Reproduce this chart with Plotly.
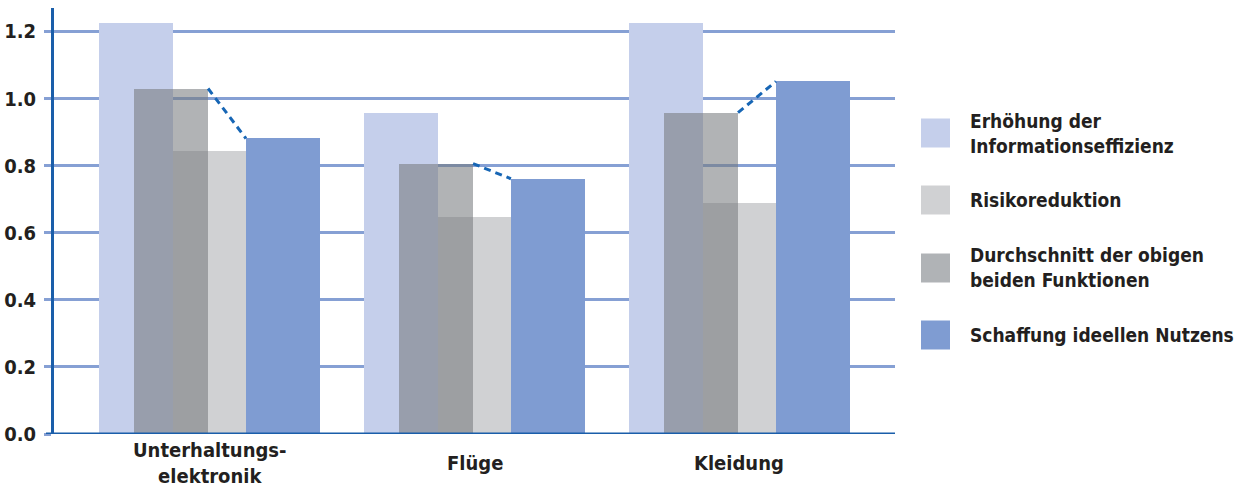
import plotly.graph_objects as go

# ---------------- data ----------------
categories = ["Unterhaltungs-<br>elektronik", "Flüge", "Kleidung"]
informationseffizienz = [1.224, 0.958, 1.224]
risikoreduktion = [0.845, 0.648, 0.690]
durchschnitt = [1.030, 0.806, 0.958]
ideeller_nutzen = [0.881, 0.761, 1.051]
y_ticks = [0.0, 0.2, 0.4, 0.6, 0.8, 1.0, 1.2]
legend_labels = [
    "Erhöhung der<br>Informationseffizienz",
    "Risikoreduktion",
    "Durchschnitt der obigen<br>beiden Funktionen",
    "Schaffung ideellen Nutzens",
]

# ---------------- style ----------------
C_INFO = "#C5CFEB"
C_RISK = "#D0D1D3"
C_AVG = "rgba(117,120,124,0.565)"
C_AVG_LEG = "#B0B3B6"
C_IDEAL = "#7F9CD2"
C_GRID = "#86A0D4"
C_AXIS = "#1A5EAA"
C_DASH = "#1766B5"
TXT = "#231F20"
FONT = "DejaVu Sans Condensed, Roboto, Liberation Sans, sans-serif"

W, H = 1245, 490
ML, MR, MT, MB = 54, 350, 8, 56
PW, PH = W - ML - MR, H - MT - MB

BW = 0.279
OFF_INFO, OFF_AVG, OFF_RISK, OFF_IDEAL = -0.277, -0.145, 0.0, 0.277

idx = list(range(len(categories)))

fig = go.Figure()
fig.add_bar(x=[i + OFF_INFO for i in idx], y=informationseffizienz, width=BW,
            marker=dict(color=C_INFO, line=dict(width=0)), showlegend=False)
fig.add_bar(x=[i + OFF_RISK for i in idx], y=risikoreduktion, width=BW,
            marker=dict(color=C_RISK, line=dict(width=0)), showlegend=False)
fig.add_bar(x=[i + OFF_AVG for i in idx], y=durchschnitt, width=BW,
            marker=dict(color=C_AVG, line=dict(width=0)), showlegend=False)
fig.add_bar(x=[i + OFF_IDEAL for i in idx], y=ideeller_nutzen, width=BW,
            marker=dict(color=C_IDEAL, line=dict(width=0)), showlegend=False)

# dashed connectors: top-right of average bar -> top-left of ideal bar
for i in idx:
    fig.add_scatter(
        x=[i + OFF_AVG + BW / 2, i + OFF_IDEAL - BW / 2],
        y=[durchschnitt[i], ideeller_nutzen[i]],
        mode="lines", line=dict(color=C_DASH, width=3, dash="7px,5px"),
        showlegend=False, hoverinfo="skip",
    )

# category labels (vertically centred under the groups)
for i, cat in enumerate(categories):
    fig.add_annotation(x=i, y=0, xref="x", yref="paper", text=f"<b>{cat}</b>",
                       showarrow=False, yanchor="middle", yshift=-29,
                       font=dict(family=FONT, size=20, color=TXT))

# bottom axis line (extends slightly left)
fig.add_shape(type="line", xref="paper", yref="y", x0=-8 / PW, x1=1, y0=0, y1=0,
              line=dict(color=C_AXIS, width=3), layer="above")

# custom legend
leg_colors = [C_INFO, C_RISK, C_AVG_LEG, C_IDEAL]
leg_centers = [133, 200, 268, 335]
for col, lab, cy in zip(leg_colors, legend_labels, leg_centers):
    x0 = (921 - ML) / PW
    x1 = (950 - ML) / PW
    y0 = (H - MB - (cy - 14.5)) / PH
    y1 = (H - MB - (cy + 14.5)) / PH
    fig.add_shape(type="rect", xref="paper", yref="paper", x0=x0, x1=x1, y0=y1, y1=y0,
                  fillcolor=col, line=dict(width=0))
    fig.add_annotation(x=(968 - ML) / PW, y=(H - MB - cy) / PH, xref="paper", yref="paper",
                       text=f"<b>{lab}</b>", showarrow=False, xanchor="left",
                       yanchor="middle", align="left",
                       font=dict(family=FONT, size=19, color=TXT))

fig.update_layout(
    width=W, height=H,
    margin=dict(l=ML, r=MR, t=MT, b=MB, pad=0, autoexpand=False),
    paper_bgcolor="white", plot_bgcolor="white",
    barmode="overlay", bargap=0,
    font=dict(family=FONT, color=TXT),
)
fig.update_xaxes(range=[-0.587, 2.587], showticklabels=False, showgrid=False,
                 zeroline=False, showline=False, ticks="", automargin=False)
fig.update_yaxes(range=[0, 1.27], tickvals=y_ticks,
                 ticktext=[f"<b>{v:.1f}</b>" for v in y_ticks],
                 tickfont=dict(family=FONT, size=20, color=TXT),
                 showgrid=True, gridcolor=C_GRID, gridwidth=3,
                 zeroline=False, showline=True, linecolor=C_AXIS, linewidth=3,
                 ticks="outside", ticklen=7, tickwidth=3, tickcolor=C_GRID,
                 ticklabelstandoff=4, automargin=False)

fig.write_html("out.html")
